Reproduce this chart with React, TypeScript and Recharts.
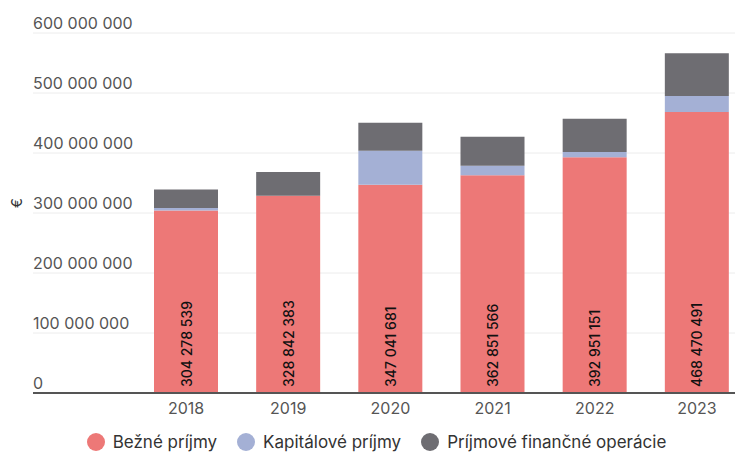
import { BarChart, Bar, XAxis, YAxis, CartesianGrid, Legend, LabelList } from "recharts";

const years = ["2018", "2019", "2020", "2021", "2022", "2023"];
const bezne = [304278539, 328842383, 347041681, 362851566, 392951151, 468470491];
const kapitalove = [4000000, 0, 56700000, 15800000, 8700000, 26700000];
const financne = [30700000, 39500000, 46700000, 48300000, 55500000, 71100000];
const yTicks = [0, 100000000, 200000000, 300000000, 400000000, 500000000, 600000000];

const FONT = "Inter, 'Noto Sans', sans-serif";
const RED = "#ED7877";
const BLUE = "#A4B0D5";
const DARK = "#6E6D72";

const fmt = (v: number) => String(Math.round(v)).replace(/\B(?=(\d{3})+(?!\d))/g, " ");

const data = years.map((y, i) => ({
  year: y,
  bezne: bezne[i],
  kapitalove: kapitalove[i],
  financne: financne[i],
}));

const legendItems = [
  { name: "Bežné príjmy", color: RED },
  { name: "Kapitálové príjmy", color: BLUE },
  { name: "Príjmové finančné operácie", color: DARK },
];

function YTick(props: any) {
  const { y, payload } = props;
  return (
    <text x={25} y={y - 10} fill="#555" fontSize={16} fontFamily={FONT} dominantBaseline="central" textAnchor="start">
      {fmt(payload.value)}
    </text>
  );
}

function BarValue(props: any) {
  const { x, y, width, height, value } = props;
  const cx = x + width / 2;
  const cy = y + height - 6;
  return (
    <text
      x={cx}
      y={cy}
      transform={`rotate(-90, ${cx}, ${cy})`}
      textAnchor="start"
      dominantBaseline="central"
      fontSize={14}
      fontWeight={500}
      fontFamily={FONT}
      fill="#111"
    >
      {fmt(value)}
    </text>
  );
}

function LegendContent() {
  return (
    <div style={{ display: "flex", justifyContent: "center", gap: 20, paddingTop: 10, paddingRight: 22, fontFamily: FONT, fontSize: 17, color: "#333" }}>
      {legendItems.map((it) => (
        <div key={it.name} style={{ display: "flex", alignItems: "center", gap: 8 }}>
          <span style={{ width: 18, height: 18, borderRadius: 9, background: it.color, display: "inline-block" }} />
          <span>{it.name}</span>
        </div>
      ))}
    </div>
  );
}

export default function App() {
  return (
    <div style={{ position: "relative", width: 735, height: 444 }}>
      <BarChart width={735} height={444} data={data} margin={{ top: 25, right: 0, left: 24, bottom: 0 }}>
        <CartesianGrid vertical={false} stroke="#ececec" />
        <XAxis
          dataKey="year"
          height={29}
          padding={{ left: 102, right: -5 }}
          axisLine={{ stroke: "#555", strokeWidth: 2 }}
          tickLine={false}
          tick={{ fontSize: 16, fill: "#555", fontFamily: FONT }}
          tickMargin={4}
        />
        <YAxis
          width={1}
          domain={[0, 600000000]}
          ticks={yTicks}
          interval={0}
          axisLine={false}
          tickLine={false}
          tick={<YTick />}
        />
        <Legend verticalAlign="bottom" height={30} content={<LegendContent />} />
        <Bar dataKey="bezne" stackId="a" fill={RED} barSize={64} isAnimationActive={false}>
          <LabelList dataKey="bezne" content={<BarValue />} />
        </Bar>
        <Bar dataKey="kapitalove" stackId="a" fill={BLUE} barSize={64} isAnimationActive={false} />
        <Bar dataKey="financne" stackId="a" fill={DARK} barSize={64} isAnimationActive={false} />
      </BarChart>
      <div
        style={{
          position: "absolute",
          left: 8,
          top: 195,
          transform: "translate(-50%, -50%) rotate(-90deg)",
          fontFamily: FONT,
          fontSize: 15,
          color: "#333",
        }}
      >
        €
      </div>
    </div>
  );
}
